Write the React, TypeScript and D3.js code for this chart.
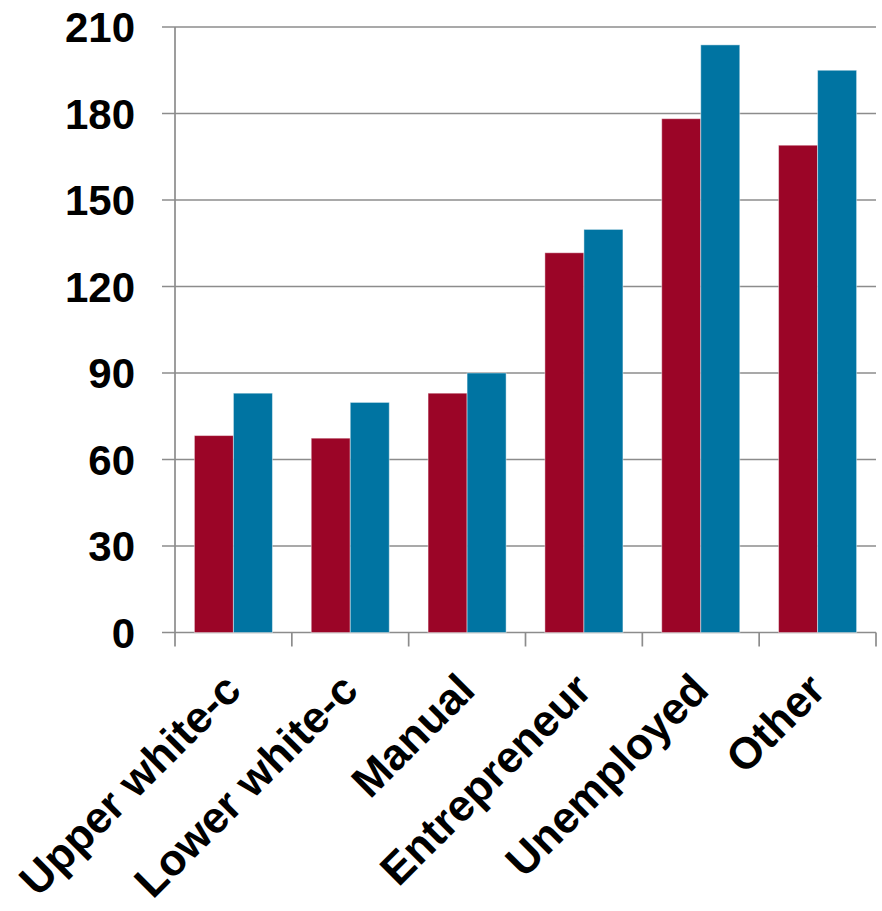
import React from "react";
import * as d3 from "d3";

// Category labels along the x axis
const categories = [
  "Upper white-c",
  "Lower white-c",
  "Manual",
  "Entrepreneur",
  "Unemployed",
  "Other",
];

// Two series per category
const seriesRed = [68.3, 67.4, 83, 131.7, 178.2, 169];
const seriesBlue = [83, 79.8, 90, 139.8, 203.8, 195];

const yTicks = [0, 30, 60, 90, 120, 150, 180, 210];

const seriesNames = ["red", "blue"];
const seriesColors = ["#9B0527", "#0074A2"];

const WIDTH = 882;
const HEIGHT = 911;
const margin = { top: 27, right: 6, bottom: 278.5, left: 175 };

export default function App() {
  const innerW = WIDTH - margin.left - margin.right;
  const innerH = HEIGHT - margin.top - margin.bottom;

  const x = d3.scaleBand<string>().domain(categories).range([0, innerW]).paddingInner(0.332).paddingOuter(0.166);
  const xBand = d3
    .scaleBand<string>()
    .domain(categories)
    .range([0, innerW]);
  const inner = d3.scaleBand<string>().domain(seriesNames).range([0, x.bandwidth()]);
  const y = d3.scaleLinear().domain([0, 210]).range([innerH, 0]);

  const values = [seriesRed, seriesBlue];
  const axisColor = "#8c8c8c";
  const font = "'Liberation Sans', Arial, sans-serif";

  return (
    <svg
      width={WIDTH}
      height={HEIGHT}
      style={{ position: "absolute", left: 0, top: 0, display: "block", background: "#fff" }}
    >
      <g transform={`translate(${margin.left},${margin.top})`}>
        {/* horizontal gridlines with left tick marks */}
        {yTicks.map((t) => (
          <line
            key={`g${t}`}
            x1={-13}
            x2={innerW}
            y1={y(t)}
            y2={y(t)}
            stroke={axisColor}
            strokeWidth={1.7}
          />
        ))}
        {/* y axis */}
        <line x1={0} x2={0} y1={0} y2={innerH + 14} stroke={axisColor} strokeWidth={1.7} />
        {/* category boundary ticks */}
        {categories.map((c) => (
          <line
            key={`t${c}`}
            x1={(xBand(c) as number) + xBand.bandwidth()}
            x2={(xBand(c) as number) + xBand.bandwidth()}
            y1={innerH}
            y2={innerH + 14}
            stroke={axisColor}
            strokeWidth={1.7}
          />
        ))}
        {/* bars */}
        {categories.map((c, i) => (
          <g key={`b${c}`} transform={`translate(${x(c)},0)`}>
            {seriesNames.map((s, k) => (
              <rect
                key={s}
                x={inner(s)}
                y={y(values[k][i])}
                width={inner.bandwidth()}
                height={innerH - y(values[k][i])}
                fill={seriesColors[k]}
                stroke="rgba(255,255,255,0.45)"
                strokeWidth={1}
              />
            ))}
          </g>
        ))}
        {/* y tick labels */}
        {yTicks.map((t) => (
          <text
            key={`l${t}`}
            x={-40}
            y={y(t)}
            dy="0.36em"
            textAnchor="end"
            fontFamily={font}
            fontWeight="bold"
            fontSize={42}
            fill="#000"
          >
            {t}
          </text>
        ))}
        {/* x category labels */}
        {categories.map((c) => {
          const cx = (xBand(c) as number) + xBand.bandwidth() / 2;
          return (
            <text
              key={`x${c}`}
              transform={`translate(${cx + 10},${innerH + 60}) rotate(-45)`}
              textAnchor="end"
              fontFamily={font}
              fontWeight="bold"
              fontSize={44}
              fill="#000"
            >
              {c}
            </text>
          );
        })}
      </g>
    </svg>
  );
}
